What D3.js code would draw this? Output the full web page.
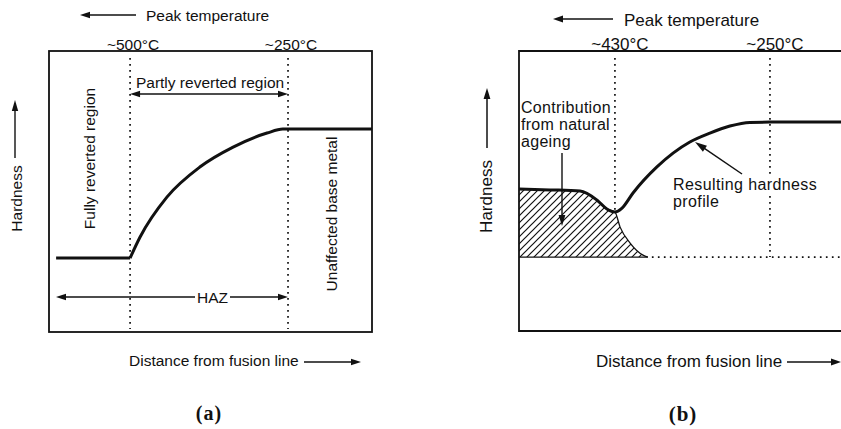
<!DOCTYPE html>
<html>
<head>
<meta charset="utf-8">
<script src="https://cdn.jsdelivr.net/npm/d3@7"></script>
<style>
  html, body { margin: 0; padding: 0; background: #fff; }
  svg { display: block; }
  text { font-family: "Liberation Sans", Arial, Helvetica, sans-serif; fill: #111; }
  .tag { font-family: "Liberation Serif", "Times New Roman", serif; font-weight: bold; }
</style>
</head>
<body>
<svg id="chart" width="841" height="429"></svg>
<script>
// ---- Panel (a): hardness profile across the heat-affected zone ----
// distance from fusion line (0-100, arbitrary) and hardness (0-100, arbitrary)
const distA = [2.2, 25.1, 28.2, 36.5, 46.7, 57.0, 67.5, 72.4, 100];
const hardA = [26.3, 26.3, 33.8, 48.0, 58.7, 65.8, 70.8, 72.2, 72.2];
const tempMarksA = [25.1, 74.0];
const tempLabelsA = ["~500°C", "~250°C"];

// ---- Panel (b): resulting profile after natural ageing ----
const distB = [0, 9.6, 18.9, 24.1, 27.2, 29.7, 31.9, 35.3, 42.7, 52.9, 59.1, 65.3, 71.5, 77.7, 100];
const hardB = [50.7, 50.4, 50.0, 46.8, 43.6, 42.5, 43.9, 49.3, 58.6, 67.5, 70.7, 73.2, 74.5, 74.6, 74.6];
const distAgeing = [0, 9.6, 18.9, 24.1, 27.2, 29.7, 31.3, 34.4, 38.4, 39.9];
const hardAgeing = [50.7, 50.4, 50.0, 46.8, 43.6, 42.5, 37.1, 31.4, 27.1, 26.4];
const baseHardB = 26.4;
const tempMarksB = [29.7, 77.7];
const tempLabelsB = ["~430°C", "~250°C"];

const panelTags = ["(a)", "(b)"];

const svg = d3.select("#chart");
const INK = "#111";

const xA = d3.scaleLinear([0, 100], [49, 372]);
const yA = d3.scaleLinear([0, 100], [332, 51]);
const xB = d3.scaleLinear([0, 100], [519, 842]);
const yB = d3.scaleLinear([0, 100], [331, 51]);

// straight line with filled arrowheads at either end
function arrow(g, x1, y1, x2, y2, headStart, headEnd, len = 9, half = 3.2, sw = 1.3) {
  const dx = x2 - x1, dy = y2 - y1, L = Math.hypot(dx, dy), ux = dx / L, uy = dy / L;
  let sx = x1, sy = y1, ex = x2, ey = y2;
  if (headStart) { sx += ux * len * 0.8; sy += uy * len * 0.8; }
  if (headEnd) { ex -= ux * len * 0.8; ey -= uy * len * 0.8; }
  g.append("line").attr("x1", sx).attr("y1", sy).attr("x2", ex).attr("y2", ey)
    .attr("stroke", INK).attr("stroke-width", sw);
  const head = (tx, ty, vx, vy) => {
    const bx = tx - vx * len, by = ty - vy * len;
    g.append("path")
      .attr("d", `M${tx},${ty}L${bx - vy * half},${by + vx * half}L${bx + vy * half},${by - vx * half}Z`)
      .attr("fill", INK);
  };
  if (headEnd) head(x2, y2, ux, uy);
  if (headStart) head(x1, y1, -ux, -uy);
}

function dotted(g, x1, y1, x2, y2) {
  g.append("line").attr("x1", x1).attr("y1", y1).attr("x2", x2).attr("y2", y2)
    .attr("stroke", INK).attr("stroke-width", 1.7)
    .attr("stroke-dasharray", "1.7,4.3").attr("stroke-linecap", "butt");
}

function label(g, x, y, str, size, anchor = "start", rot = 0) {
  const t = g.append("text").attr("font-size", size).attr("text-anchor", anchor).text(str);
  if (rot) t.attr("transform", `translate(${x},${y}) rotate(${rot})`);
  else t.attr("x", x).attr("y", y);
  return t;
}

// hatch pattern for the natural-ageing contribution
const defs = svg.append("defs");
defs.append("pattern").attr("id", "hatch").attr("patternUnits", "userSpaceOnUse")
  .attr("width", 7).attr("height", 7)
  .append("path").attr("d", "M-1,1L1,-1M0,7L7,0M6,8L8,6")
  .attr("stroke", INK).attr("stroke-width", 1.2);

// ================= Panel (a) =================
const ga = svg.append("g");
const fsA = 15.5;

arrow(ga, 136, 15, 80, 15, false, true, 10, 3.2, 1.4);
label(ga, 146, 21, "Peak temperature", fsA);

ga.append("rect").attr("x", xA(0)).attr("y", yA(100))
  .attr("width", xA(100) - xA(0)).attr("height", yA(0) - yA(100))
  .attr("fill", "none").attr("stroke", INK).attr("stroke-width", 1.8);

tempMarksA.forEach((m, i) => {
  dotted(ga, xA(m), yA(97.5), xA(m), yA(1.1));
  label(ga, xA(m) + 3, 50, tempLabelsA[i], fsA, "middle");
});

label(ga, (xA(tempMarksA[0]) + xA(tempMarksA[1])) / 2 + 1, 88, "Partly reverted region", fsA, "middle");
arrow(ga, xA(tempMarksA[0]), 94, xA(tempMarksA[1]), 94, true, true, 10, 3.2, 1.4);

// hardness curve: flat fully-reverted section, then recovery to base metal
const lineA = d3.line().x(i => xA(distA[i])).y(i => yA(hardA[i]));
ga.append("path").attr("d", lineA.curve(d3.curveLinear)([0, 1]))
  .attr("fill", "none").attr("stroke", INK).attr("stroke-width", 3);
ga.append("path").attr("d", lineA.curve(d3.curveMonotoneX)(d3.range(1, distA.length)))
  .attr("fill", "none").attr("stroke", INK).attr("stroke-width", 3).attr("stroke-linejoin", "round");

label(ga, 95, 158.5, "Fully reverted region", fsA, "middle", -90);
label(ga, 337, 214, "Unaffected base metal", fsA, "middle", -90);

label(ga, 22, 198.5, "Hardness", fsA, "middle", -90);
arrow(ga, 15, 158, 15, 100, false, true, 11, 3.2, 1.4);

// HAZ extent
arrow(ga, 56, 297, xA(tempMarksA[1]), 297, true, true, 10, 3.2, 1.4);
ga.append("rect").attr("x", 195).attr("y", 289).attr("width", 35).attr("height", 16).attr("fill", "#fff");
label(ga, 212.5, 303, "HAZ", fsA, "middle");

label(ga, 129, 366, "Distance from fusion line", fsA);
arrow(ga, 304, 362, 361, 362, false, true, 10, 3.2, 1.4);

ga.append("text").attr("class", "tag").attr("x", 209).attr("y", 420)
  .attr("font-size", 20).attr("letter-spacing", 1).attr("text-anchor", "middle").text(panelTags[0]);

// ================= Panel (b) =================
const gb = svg.append("g");
const fsB = 17;
const fsNote = 16;

arrow(gb, 613, 19, 553, 19, false, true, 10, 3.4, 1.5);
label(gb, 624, 26, "Peak temperature", fsB);

// frame (open to the right)
gb.append("path")
  .attr("d", `M${xB(100) + 5},${yB(100)}H${xB(0)}V${yB(0)}H${xB(100) + 5}`)
  .attr("fill", "none").attr("stroke", INK).attr("stroke-width", 1.8);

tempLabelsB.forEach((t, i) => label(gb, xB(tempMarksB[i]) + 5, 50, t, fsB, "middle"));
dotted(gb, xB(tempMarksB[0]), yB(97.5), xB(tempMarksB[0]), yB(hardB[5]));
dotted(gb, xB(tempMarksB[1]), yB(97.5), xB(tempMarksB[1]), yB(baseHardB));

// natural-ageing contribution (hatched)
const idxAge = d3.range(distAgeing.length);
const areaAge = d3.area().curve(d3.curveMonotoneX)
  .x(i => xB(distAgeing[i])).y0(yB(baseHardB)).y1(i => yB(hardAgeing[i]));
gb.append("path").attr("d", areaAge(idxAge)).attr("fill", "url(#hatch)");
const lineAge = d3.line().curve(d3.curveMonotoneX)
  .x(i => xB(distAgeing[i])).y(i => yB(hardAgeing[i]));
gb.append("path").attr("d", lineAge(idxAge)).attr("fill", "none").attr("stroke", INK).attr("stroke-width", 1.3);
gb.append("line").attr("x1", xB(0)).attr("x2", xB(distAgeing[distAgeing.length - 1]))
  .attr("y1", yB(baseHardB)).attr("y2", yB(baseHardB)).attr("stroke", INK).attr("stroke-width", 1.2);
dotted(gb, xB(distAgeing[distAgeing.length - 1]) + 4, yB(baseHardB), xB(100), yB(baseHardB));

// resulting hardness profile
const lineB = d3.line().curve(d3.curveMonotoneX).x(i => xB(distB[i])).y(i => yB(hardB[i]));
gb.append("path").attr("d", lineB(d3.range(distB.length)))
  .attr("fill", "none").attr("stroke", INK).attr("stroke-width", 3).attr("stroke-linejoin", "round");

label(gb, 521, 113, "Contribution", fsNote).attr("letter-spacing", 0.3);
label(gb, 521, 130, "from natural", fsNote).attr("letter-spacing", 0.3);
label(gb, 521, 147, "ageing", fsNote).attr("letter-spacing", 0.3);
arrow(gb, 562, 153, 562, 226, false, true, 11, 3.4, 1.4);

// white backing so the dotted marker breaks around the note
gb.append("rect").attr("x", 670).attr("y", 176).attr("width", 150).attr("height", 19).attr("fill", "#fff");
label(gb, 673, 190, "Resulting hardness", fsNote).attr("letter-spacing", 0.4);
label(gb, 673, 207, "profile", fsNote).attr("letter-spacing", 0.4);
arrow(gb, 742, 174, 695, 142, false, true, 12, 3.6, 1.5);

label(gb, 492, 196.5, "Hardness", fsB, "middle", -90);
arrow(gb, 487, 148, 487, 88, false, true, 11, 3.4, 1.5);

label(gb, 596, 367, "Distance from fusion line", fsB);
arrow(gb, 787, 362, 841, 362, false, true, 10, 3.4, 1.5);

gb.append("text").attr("class", "tag").attr("x", 683).attr("y", 421)
  .attr("font-size", 21).attr("letter-spacing", 1).attr("text-anchor", "middle").text(panelTags[1]);
</script>
</body>
</html>
